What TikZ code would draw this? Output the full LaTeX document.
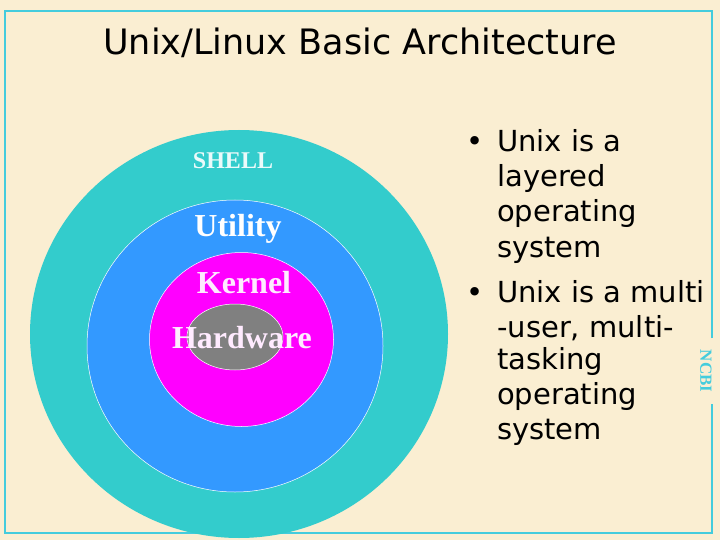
\documentclass[tikz,border=0pt]{standalone}
\usepackage{fontspec}
\setmainfont{Liberation Serif}
\newfontfamily\djv{DejaVu Sans}
\definecolor{bgc}{HTML}{FAEED2}
\definecolor{teal1}{HTML}{33CCCC}
\definecolor{blue1}{HTML}{3399FF}
\definecolor{mag1}{HTML}{FF00FF}
\definecolor{gray1}{HTML}{808080}
\definecolor{frame1}{HTML}{44CCDD}
\tikzset{lbl/.style={font=\bfseries, text=white, inner sep=0pt},
  bul/.style={font=\djv\fontsize{29}{29}\selectfont, anchor=base west, inner sep=0pt}}
\begin{document}
\begin{tikzpicture}[x=1pt,y=-1pt]
\fill[bgc] (0,0) rectangle (720,540);
\useasboundingbox (0,0) rectangle (720,540);
\draw[frame1, line width=1.2pt] (712,338) -- (712,11) -- (5,11) -- (5,533) -- (712,533) -- (712,404);
\node[frame1, rotate=-90, font=\bfseries\fontsize{17}{17}\selectfont, inner sep=0pt] (ncbi) at (706,371) {NCBI};
\node[font=\djv\fontsize{35}{35}\selectfont, inner sep=0pt] (title) at (360,43) {Unix/Linux Basic Architecture};
\fill[teal1] (239,334) ellipse [x radius=209, y radius=204];
\filldraw[fill=blue1, draw=white, line width=0.5pt] (235,346) ellipse [x radius=148, y radius=146];
\filldraw[fill=mag1, draw=white, line width=0.5pt] (241.5,339.5) ellipse [x radius=92, y radius=87];
\filldraw[fill=gray1, draw=white, line width=0.5pt] (235,337) ellipse [x radius=48, y radius=33];
\node[lbl, text=white!90!teal1, font=\bfseries\fontsize{24}{24}\selectfont] (shell) at (233,161) {SHELL};
\node[lbl, font=\bfseries\fontsize{32}{32}\selectfont] (util) at (238,229) {Utility};
\node[lbl, text=white!92!mag1, font=\bfseries\fontsize{32}{32}\selectfont] (kern) at (244,283) {Kernel};
\node[lbl, text=white!92!mag1, font=\bfseries\fontsize{32}{32}\selectfont] (hw) at (242,338) {Hardware};
\node[bul] (b1) at (466,152) {•};
\node[bul] (l1) at (497,152) {Unix is a};
\node[bul] (l2) at (497,187) {layered};
\node[bul] (l3) at (497,222) {operating};
\node[bul] (l4) at (497,257) {system};
\node[bul] (b2) at (466,302) {•};
\node[bul] (l5) at (497,302) {Unix is a multi};
\node[bul] (l6) at (497,337) {-user, multi-};
\node[bul] (l7) at (497,369) {tasking};
\node[bul] (l8) at (497,404) {operating};
\node[bul] (l9) at (497,439) {system};
\end{tikzpicture}
\end{document}
